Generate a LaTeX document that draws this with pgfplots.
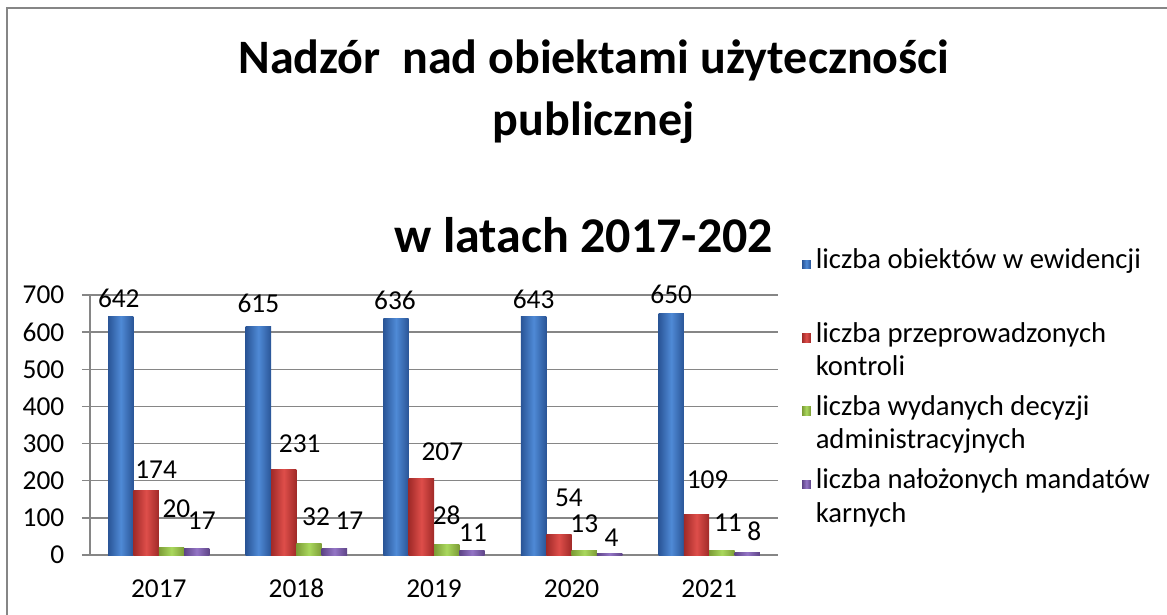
\documentclass[border=0pt]{standalone}
\usepackage{pgfplots}
\pgfplotsset{compat=1.18}
\usepackage{pgfplotstable}
\usepackage{fontspec}
\setmainfont{Carlito}

\definecolor{gridgray}{HTML}{868686}
\definecolor{bD}{HTML}{2A5597}\definecolor{bL}{HTML}{4F8AD6}
\definecolor{rD}{HTML}{A02A28}\definecolor{rL}{HTML}{DE4E4A}
\definecolor{gD}{HTML}{7C9C36}\definecolor{gL}{HTML}{AAD85E}
\definecolor{pD}{HTML}{5E4487}\definecolor{pL}{HTML}{9475C6}

\pgfplotstableread{
x y dx dy
0 642 -2 9
1 615 0 14
2 636 -1 9
3 643 0 8
4 650 0 10
}\tblue
\pgfplotstableread{
x y dx dy
0 174 10 12
1 231 16 17
2 207 21 18
3 54 10 28
4 109 11 26
}\tred
\pgfplotstableread{
x y dx dy
0 20 5 30
1 32 7 18
2 28 0 20
3 13 0 18
4 11 6 19
}\tgreen
\pgfplotstableread{
x y dx dy
0 17 5 19
1 17 15 19
2 11 1 9
3 4 2 7
4 8 7 12
}\tpurple

\pgfplotsset{/pgf/number format/assume math mode=true,
  myleg/.style={legend image code/.code={\fill[##1,draw=none] (0pt,4.5pt) rectangle (6.5pt,11pt);}},
  sb/.style={draw=none, left color=bD, right color=bD, middle color=bL},
  sr/.style={draw=none, left color=rD, right color=rD, middle color=rL},
  sg/.style={draw=none, left color=gD, right color=gD, middle color=gL},
  sp/.style={draw=none, left color=pD, right color=pD, middle color=pL},
}

\begin{document}
\begin{tikzpicture}
\useasboundingbox (0,0) rectangle (875.25pt,460.5pt);
\draw[gridgray,line width=1.5pt] (5.25pt,-5pt) -- (5.25pt,454.5pt) -- (880pt,454.5pt);
\node[anchor=base,font=\fontsize{36pt}{43pt}\selectfont\bfseries] at (445.5pt,405pt) {Nadzór\ \ nad obiektami użyteczności};
\node[anchor=base,font=\fontsize{36pt}{43pt}\selectfont\bfseries] at (445.5pt,358.5pt) {publicznej};
\node[anchor=base,font=\fontsize{37.5pt}{45pt}\selectfont\bfseries] at (438pt,271pt) {w latach 2017-202};
\begin{axis}[
  at={(67.5pt,44.25pt)}, anchor=south west,
  scale only axis, width=516pt, height=195pt,
  xmin=-0.5, xmax=4.5, ymin=0, ymax=700,
  axis lines=left, axis line style={-, gridgray, line width=1pt},
  ybar, bar width=19pt,
  xtick={0,1,2,3,4}, xticklabels={2017,2018,2019,2020,2021},
  major x tick style={draw=none},
  extra x ticks={-0.5,0.5,1.5,2.5,3.5,4.5}, extra x tick labels={},
  extra x tick style={tick style={gridgray,line width=1pt}, grid=none, major tick length=6pt, tick align=outside},
  ytick={0,100,...,700},
  ymajorgrids, grid style={gridgray, line width=1pt},
  y tick style={gridgray, line width=1pt}, major tick length=6pt, tick align=outside,
  tick label style={font=\fontsize{20.5pt}{24pt}\selectfont},
  xticklabel style={anchor=base, inner sep=0pt, yshift=-25.5pt},
  yticklabel style={xshift=-9.75pt},
  visualization depends on={\thisrow{dx} \as \labdx},
  visualization depends on={\thisrow{dy} \as \labdy},
  nodes near coords,
  every node near coord/.append style={anchor=base, xshift=\labdx*0.75pt, yshift=\labdy*0.75pt, font=\fontsize{20.5pt}{24pt}\selectfont, text=black, inner sep=0pt},
  legend cell align=left,
  legend style={draw=none, fill=none, at={(1.035,1.191)}, anchor=north west, inner sep=0pt, outer sep=0pt,
    nodes={font=\fontsize{21.5pt}{25pt}\selectfont, align=left, inner sep=0pt},
    row sep=11pt, column sep=3.75pt},
]
\pgfplotsinvokeforeach{0,1,2,3,4}{
\addplot[sb, bar shift=-28.5pt, forget plot] table[x=x,y=y,restrict expr to domain={\coordindex}{#1:#1}]{\tblue};
\addplot[sr, bar shift=-9.5pt, forget plot] table[x=x,y=y,restrict expr to domain={\coordindex}{#1:#1}]{\tred};
\addplot[sg, bar shift=9.5pt, forget plot] table[x=x,y=y,restrict expr to domain={\coordindex}{#1:#1}]{\tgreen};
\addplot[sp, bar shift=28.5pt, forget plot] table[x=x,y=y,restrict expr to domain={\coordindex}{#1:#1}]{\tpurple};
}
\addlegendimage{myleg, sb}
\addlegendentry{\strut liczba obiektów w ewidencji\\\strut}
\addlegendimage{myleg, sr}
\addlegendentry{\strut liczba przeprowadzonych\\\strut kontroli}
\addlegendimage{myleg, sg}
\addlegendentry{\strut liczba wydanych decyzji\\\strut administracyjnych}
\addlegendimage{myleg, sp}
\addlegendentry{\strut liczba nałożonych mandatów\\\strut karnych}
\end{axis}
\end{tikzpicture}
\end{document}
